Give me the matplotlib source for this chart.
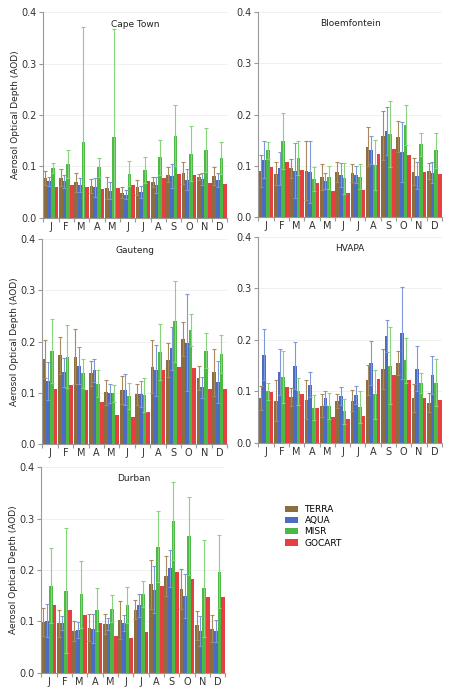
import matplotlib
matplotlib.use('Agg')
import matplotlib.pyplot as plt
from matplotlib.patches import Patch
import numpy as np

months = ['J', 'F', 'M', 'A', 'M', 'J', 'J', 'A', 'S', 'O', 'N', 'D']
sensors = ['TERRA', 'AQUA', 'MISR', 'GOCART']
colors = ['#8c6d3f', '#4a6cc2', '#4cb944', '#e53f3f']
err_colors = ['#a88a5e', '#7f98d8', '#86d47c', None]

# Cape Town
ct_terra = [0.077, 0.078, 0.069, 0.062, 0.058, 0.049, 0.059, 0.070, 0.084, 0.087, 0.080, 0.081]
ct_terra_top = [0.091, 0.095, 0.088, 0.075, 0.080, 0.060, 0.073, 0.080, 0.098, 0.109, 0.086, 0.098]
ct_aqua = [0.071, 0.071, 0.064, 0.059, 0.053, 0.045, 0.050, 0.064, 0.081, 0.074, 0.076, 0.074]
ct_aqua_top = [0.080, 0.084, 0.078, 0.078, 0.069, 0.054, 0.062, 0.079, 0.104, 0.094, 0.088, 0.088]
ct_misr = [0.097, 0.105, 0.147, 0.098, 0.157, 0.086, 0.093, 0.118, 0.160, 0.125, 0.132, 0.116]
ct_misr_top = [0.107, 0.132, 0.371, 0.117, 0.368, 0.110, 0.118, 0.152, 0.219, 0.179, 0.174, 0.147]
ct_gocart = [0.060, 0.063, 0.060, 0.056, 0.057, 0.063, 0.072, 0.077, 0.085, 0.084, 0.067, 0.066]

# Bloemfontein
bl_terra = [0.090, 0.085, 0.095, 0.091, 0.078, 0.088, 0.086, 0.137, 0.159, 0.157, 0.089, 0.090]
bl_terra_top = [0.121, 0.108, 0.114, 0.148, 0.103, 0.108, 0.103, 0.175, 0.207, 0.187, 0.115, 0.105]
bl_aqua = [0.112, 0.095, 0.091, 0.088, 0.071, 0.082, 0.083, 0.131, 0.168, 0.127, 0.081, 0.087]
bl_aqua_top = [0.148, 0.128, 0.144, 0.148, 0.087, 0.106, 0.099, 0.159, 0.214, 0.185, 0.107, 0.108]
bl_misr = [0.130, 0.148, 0.116, 0.074, 0.078, 0.076, 0.079, 0.102, 0.162, 0.180, 0.142, 0.130]
bl_misr_top = [0.147, 0.202, 0.149, 0.097, 0.100, 0.106, 0.103, 0.150, 0.226, 0.219, 0.165, 0.165]
bl_gocart = [0.097, 0.107, 0.093, 0.067, 0.051, 0.048, 0.053, 0.123, 0.132, 0.121, 0.089, 0.085]

# Gauteng
ga_terra = [0.166, 0.173, 0.171, 0.138, 0.101, 0.106, 0.097, 0.151, 0.164, 0.205, 0.129, 0.140]
ga_terra_top = [0.203, 0.209, 0.224, 0.162, 0.125, 0.134, 0.117, 0.203, 0.197, 0.238, 0.153, 0.186]
ga_aqua = [0.124, 0.140, 0.153, 0.144, 0.099, 0.106, 0.098, 0.144, 0.187, 0.198, 0.111, 0.121]
ga_aqua_top = [0.161, 0.168, 0.189, 0.166, 0.118, 0.136, 0.123, 0.193, 0.229, 0.292, 0.132, 0.162]
ga_misr = [0.182, 0.171, 0.138, 0.118, 0.099, 0.094, 0.096, 0.180, 0.240, 0.222, 0.182, 0.176]
ga_misr_top = [0.244, 0.232, 0.166, 0.144, 0.115, 0.119, 0.129, 0.235, 0.319, 0.253, 0.216, 0.213]
ga_gocart = [0.107, 0.116, 0.106, 0.082, 0.058, 0.053, 0.062, 0.145, 0.151, 0.149, 0.108, 0.107]

# HVAPA
hv_terra = [0.087, 0.082, 0.089, 0.084, 0.072, 0.081, 0.082, 0.122, 0.144, 0.155, 0.087, 0.078]
hv_terra_top = [0.111, 0.122, 0.107, 0.122, 0.094, 0.095, 0.102, 0.151, 0.183, 0.179, 0.115, 0.096]
hv_aqua = [0.171, 0.137, 0.150, 0.113, 0.087, 0.091, 0.093, 0.155, 0.208, 0.213, 0.144, 0.131]
hv_aqua_top = [0.221, 0.182, 0.195, 0.137, 0.101, 0.109, 0.111, 0.197, 0.239, 0.302, 0.188, 0.168]
hv_misr = [0.100, 0.128, 0.100, 0.068, 0.072, 0.061, 0.070, 0.094, 0.150, 0.160, 0.116, 0.117]
hv_misr_top = [0.117, 0.178, 0.126, 0.092, 0.097, 0.085, 0.101, 0.142, 0.224, 0.203, 0.135, 0.163]
hv_gocart = [0.098, 0.108, 0.094, 0.067, 0.050, 0.047, 0.052, 0.124, 0.131, 0.121, 0.088, 0.084]

# Durban
du_terra = [0.099, 0.096, 0.081, 0.088, 0.095, 0.102, 0.123, 0.172, 0.189, 0.163, 0.092, 0.086]
du_terra_top = [0.126, 0.123, 0.100, 0.114, 0.114, 0.139, 0.142, 0.219, 0.228, 0.201, 0.121, 0.112]
du_aqua = [0.101, 0.097, 0.083, 0.086, 0.095, 0.097, 0.131, 0.162, 0.203, 0.150, 0.081, 0.081]
du_aqua_top = [0.133, 0.110, 0.099, 0.114, 0.107, 0.112, 0.154, 0.208, 0.239, 0.193, 0.110, 0.103]
du_misr = [0.169, 0.160, 0.153, 0.123, 0.125, 0.131, 0.153, 0.245, 0.295, 0.266, 0.164, 0.197]
du_misr_top = [0.242, 0.282, 0.218, 0.165, 0.151, 0.166, 0.179, 0.314, 0.371, 0.342, 0.258, 0.268]
du_gocart = [0.131, 0.123, 0.112, 0.097, 0.071, 0.067, 0.080, 0.169, 0.196, 0.183, 0.148, 0.147]

panels = [
    ('Cape Town', [ct_terra, ct_aqua, ct_misr, ct_gocart], [ct_terra_top, ct_aqua_top, ct_misr_top, None],
     [0.096, 0.6854, 0.408, 0.2966], True),
    ('Bloemfontein', [bl_terra, bl_aqua, bl_misr, bl_gocart], [bl_terra_top, bl_aqua_top, bl_misr_top, None],
     [0.573, 0.686, 0.407, 0.297], False),
    ('Gauteng', [ga_terra, ga_aqua, ga_misr, ga_gocart], [ga_terra_top, ga_aqua_top, ga_misr_top, None],
     [0.094, 0.358, 0.410, 0.2966], True),
    ('HVAPA', [hv_terra, hv_aqua, hv_misr, hv_gocart], [hv_terra_top, hv_aqua_top, hv_misr_top, None],
     [0.573, 0.360, 0.407, 0.298], False),
    ('Durban', [du_terra, du_aqua, du_misr, du_gocart], [du_terra_top, du_aqua_top, du_misr_top, None],
     [0.0916, 0.0279, 0.408, 0.2968], True),
]

plt.rcParams['font.family'] = ['DejaVu Sans']
fig = plt.figure(figsize=(4.51, 6.92), dpi=100)

x = np.arange(12)
w = 0.24
offsets = [-1.5 * w, -0.5 * w, 0.5 * w, 1.5 * w]

for title, series, tops, rect, show_ylabel in panels:
    ax = fig.add_axes(rect)
    for k in range(4):
        vals = np.array(series[k])
        ax.bar(x + offsets[k], vals, width=w, color=colors[k], zorder=2)
        if tops[k] is not None:
            err = np.array(tops[k]) - vals
            ax.errorbar(x + offsets[k], vals, yerr=err, fmt='none',
                        ecolor=err_colors[k], elinewidth=0.8, capsize=1.6,
                        capthick=0.8, zorder=3)
    ax.set_xlim(-0.5, 11.5)
    ax.set_ylim(0, 0.4)
    ax.set_yticks([0.0, 0.1, 0.2, 0.3, 0.4])
    ax.set_yticklabels(['0.0', '0.1', '0.2', '0.3', '0.4'])
    ax.set_xticks(np.arange(-0.5, 12, 1))
    ax.set_xticklabels([])
    ax.set_xticks(x, minor=True)
    ax.set_xticklabels(months, minor=True)
    ax.tick_params(axis='x', which='minor', length=0, pad=3, labelsize=7, colors='#333333')
    ax.tick_params(axis='x', which='major', length=3, color='#999999')
    ax.tick_params(axis='y', length=3, color='#999999', labelsize=7, labelcolor='#333333', pad=2)
    ax.grid(axis='y', color='#eeeeee', linewidth=0.6, zorder=0)
    ax.set_axisbelow(True)
    for side in ['top', 'right']:
        ax.spines[side].set_visible(False)
    for side in ['left', 'bottom']:
        ax.spines[side].set_color('#999999')
        ax.spines[side].set_linewidth(0.8)
    ax.text(0.5, 0.965, title, transform=ax.transAxes, ha='center', va='top',
            fontsize=6.5, color='#222222')
    if show_ylabel:
        ax.set_ylabel('Aerosol Optical Depth (AOD)', fontsize=6.5, color='#222222', labelpad=1)

handles = [Patch(facecolor=c, edgecolor='none') for c in colors]
fig.legend(handles, sensors, loc='upper left', bbox_to_anchor=(0.615, 0.282),
           frameon=False, fontsize=6.5, handlelength=1.4, handleheight=0.7,
           labelspacing=0.25, handletextpad=0.7)

fig.savefig('out.png', dpi=100)
